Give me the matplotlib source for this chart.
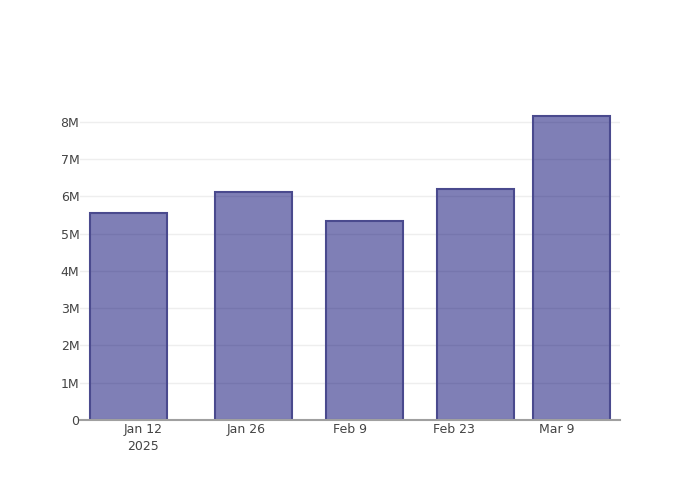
import matplotlib
matplotlib.use("Agg")
from matplotlib import pyplot as plt
import matplotlib.dates as mdates
import numpy as np
import datetime as dt

# data
dates = [dt.date(2025, 1, 10), dt.date(2025, 1, 27), dt.date(2025, 2, 11),
         dt.date(2025, 2, 26), dt.date(2025, 3, 11)]
values = [5.56e6, 6.12e6, 5.34e6, 6.20e6, 8.16e6]
tick_dates = [dt.date(2025, 1, 12), dt.date(2025, 1, 26), dt.date(2025, 2, 9),
              dt.date(2025, 2, 23), dt.date(2025, 3, 9)]
tick_labels = ["Jan 12\n2025", "Jan 26", "Feb 9", "Feb 23", "Mar 9"]
y_ticks = [0, 1e6, 2e6, 3e6, 4e6, 5e6, 6e6, 7e6, 8e6]
y_labels = ["0", "1M", "2M", "3M", "4M", "5M", "6M", "7M", "8M"]

plt.rcParams.update({'font.family': ['DejaVu Sans'], 'font.size': 9})

fig = plt.figure(figsize=(7, 5), dpi=100)
ax = fig.add_axes([80/700, 80/500, 540/700, 320/500])

x = mdates.date2num(dates)
width = 0.8 * np.min(np.diff(x))
ax.bar(x, values, width=width, color="#00006e", alpha=0.5, zorder=3)
ax.bar(x, values, width=width, fill=False, edgecolor="#4a4a8e", linewidth=1.5, zorder=4)

xt = mdates.date2num(tick_dates)
ax.set_xticks(xt)
ax.set_xticklabels(tick_labels, color="#444444", linespacing=1.4)
ax.set_xlim(xt[0] - 8.52, xt[-1] + 8.52)

ax.set_yticks(y_ticks)
ax.set_yticklabels(y_labels, color="#444444")
ax.set_ylim(0, 8.59e6)

ax.grid(axis="y", color="#eeeeee", linewidth=1, zorder=0)
ax.tick_params(axis="both", length=0)
ax.tick_params(axis="x", pad=2)
ax.tick_params(axis="y", pad=0.5)
for s in ["top", "right", "left"]:
    ax.spines[s].set_visible(False)
ax.spines["bottom"].set_color("#a0a0a0")
ax.spines["bottom"].set_linewidth(1.5)
ax.spines["bottom"].set_zorder(5)

fig.savefig("out.png", dpi=100)
